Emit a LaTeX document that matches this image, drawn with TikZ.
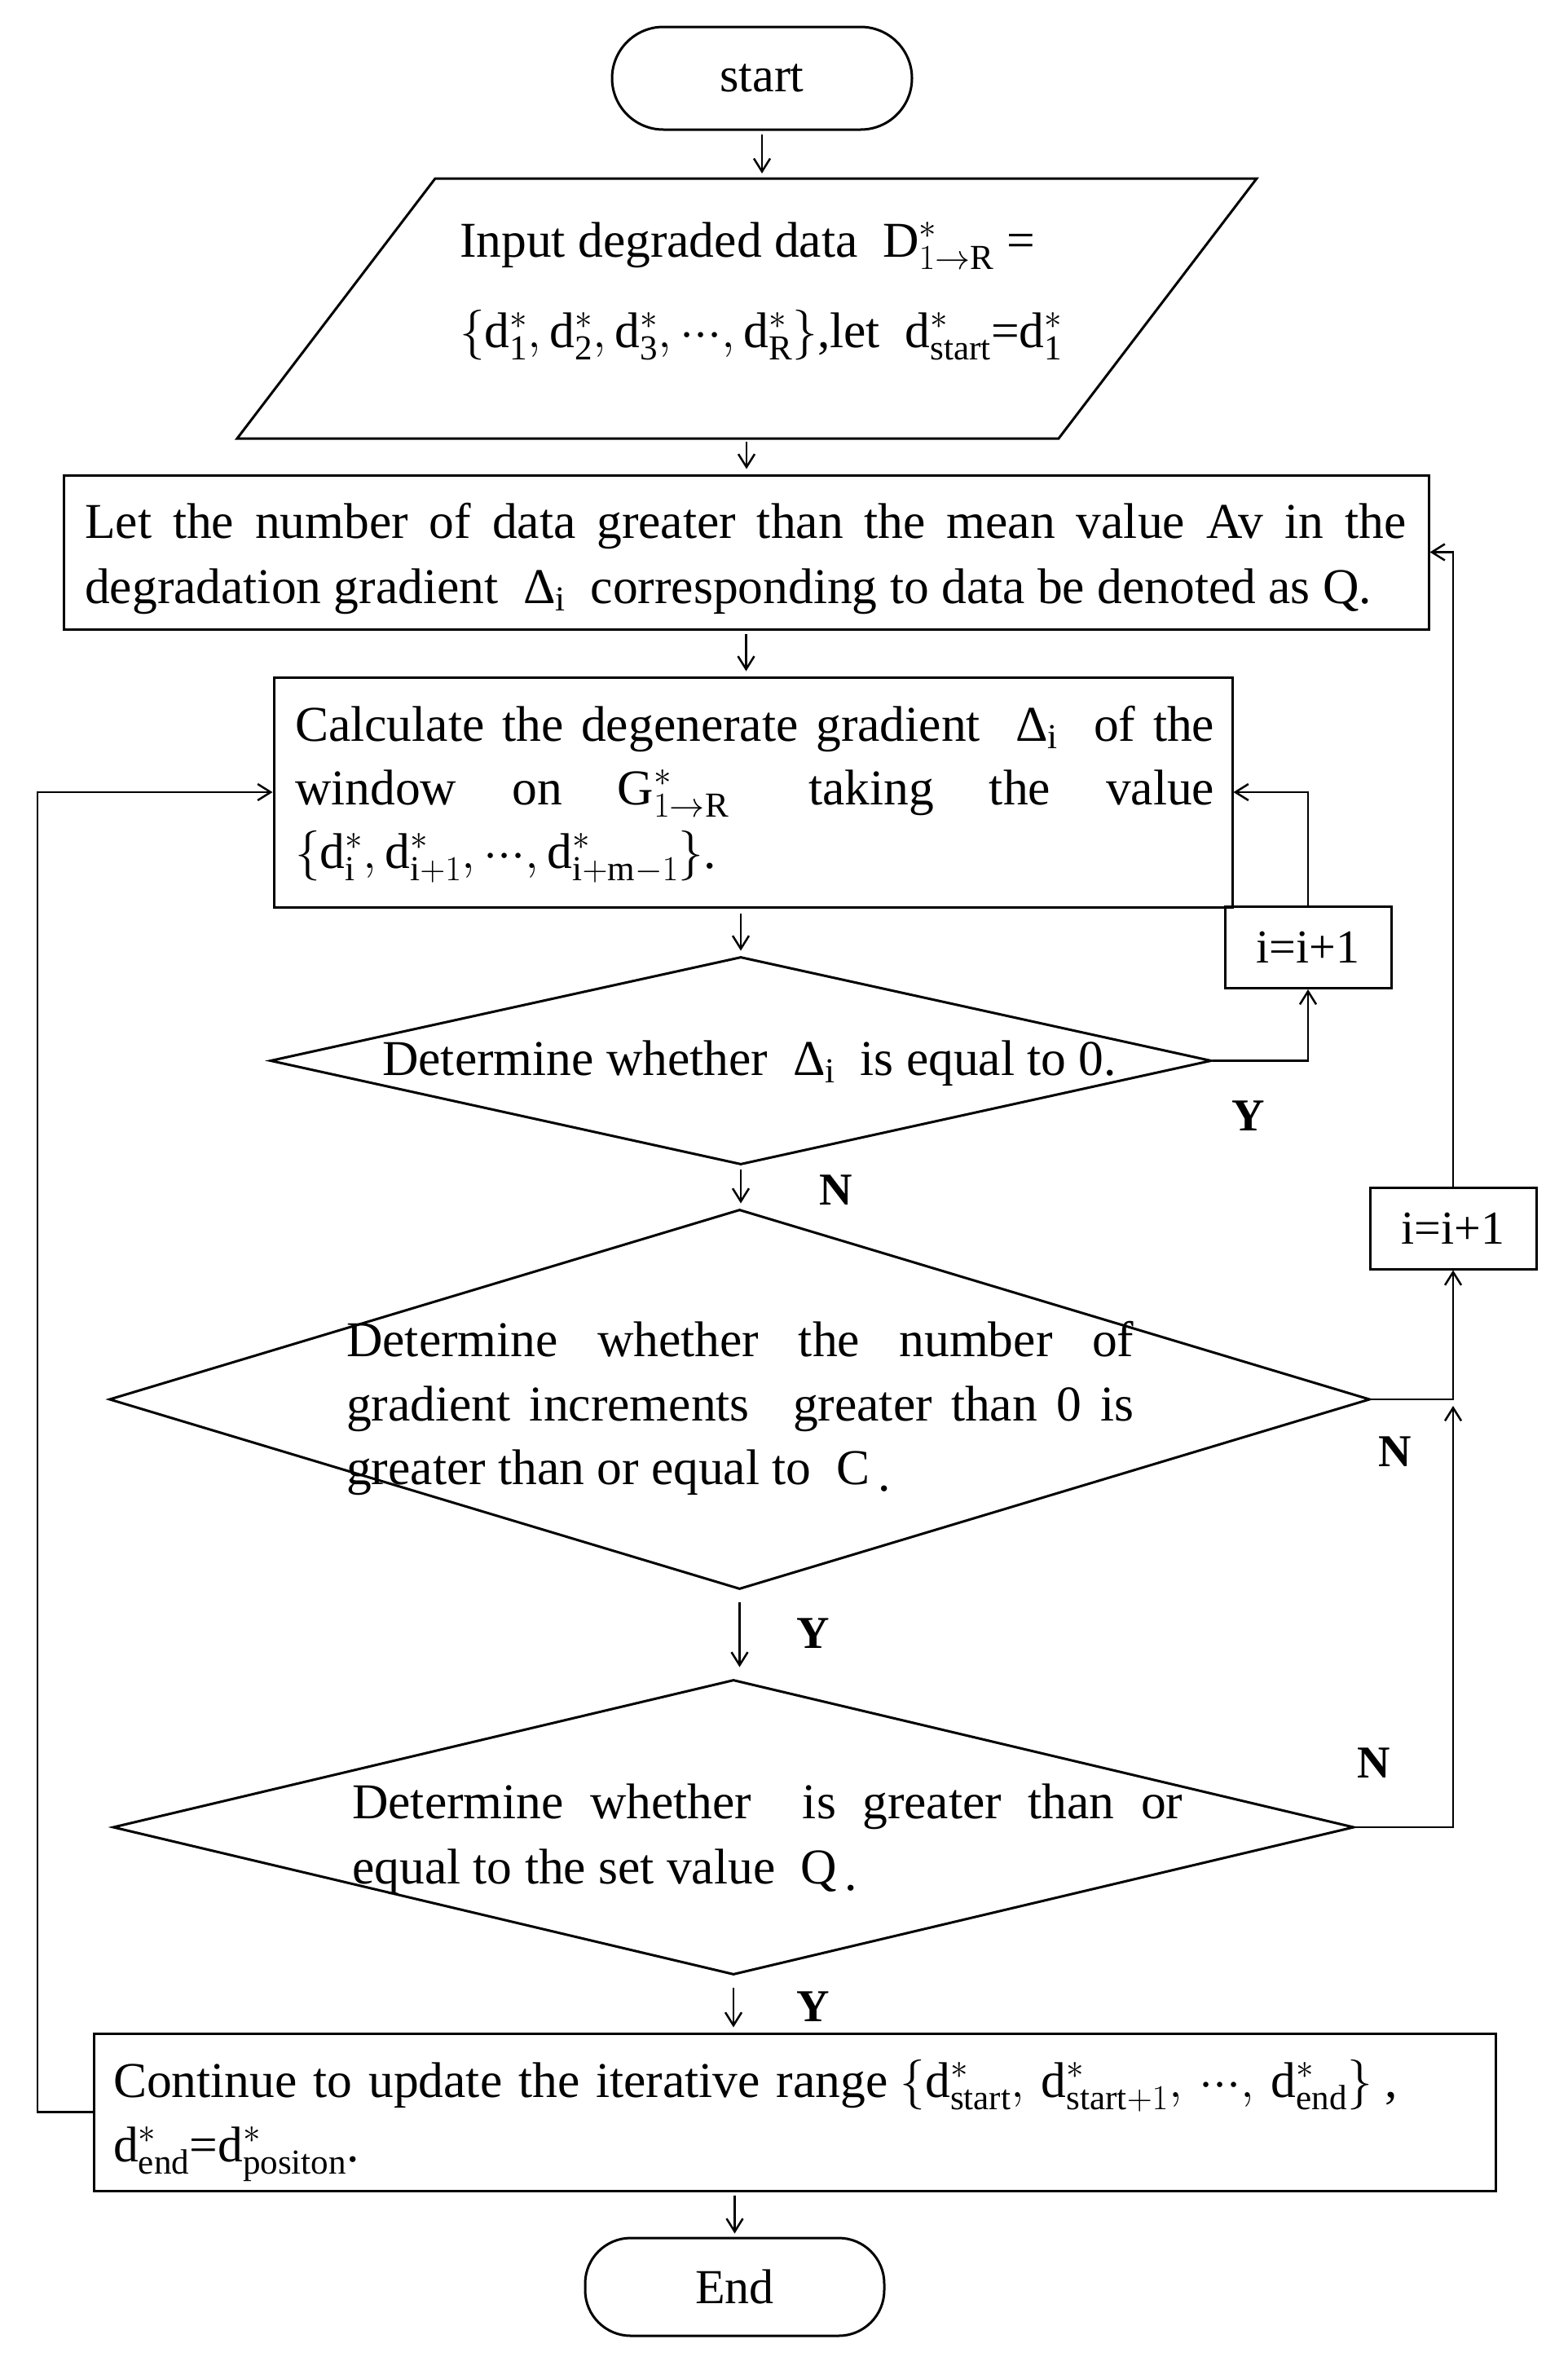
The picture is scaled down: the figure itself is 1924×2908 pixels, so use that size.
\RequirePackage{fix-cm}
\documentclass[tikz,border=0pt]{standalone}
\usepackage{fontspec}
\setmainfont{Liberation Serif}
\usetikzlibrary{shapes.geometric,arrows.meta,calc}
\newcommand{\dst}[1]{\mathrm{d}^{*}_{\mathrm{#1}}}
\newcommand{\mydots}{\mathord{\cdot}\mathord{\cdot}\mathord{\cdot}}
\newcommand{\gradD}{\mbox{Δ}_{\mathrm{i}}}
\tikzset{
  fbox/.style={draw, line width=3pt, inner sep=0pt},
  term/.style={fbox, font=\fontsize{60}{72}\selectfont},
  decis/.style={fbox, diamond},
  conn/.style={line width=2.5pt, -{Straight Barb[length=16pt,width=20pt,line width=2.5pt]}},
  txt/.style={anchor=base west, inner sep=0pt, font=\fontsize{61.5}{80}\selectfont},
  lbl/.style={inner sep=0pt, font=\fontsize{56}{64}\selectfont\bfseries},
  incbox/.style={fbox, minimum width=204pt, minimum height=100pt, font=\fontsize{58}{70}\selectfont},
}
\begin{document}
\begin{tikzpicture}[x=1pt,y=-1pt]
\useasboundingbox[fill=white] (0,0) rectangle (1924,2908);
% shapes
\node[term, minimum width=368pt, minimum height=126pt, rounded corners=63pt] (start) at (935,96) {start};
\node[inner sep=0pt, minimum width=1251pt, minimum height=319pt] (inp) at (916,378.5) {};
\draw[line width=3pt] (534,219) -- (1542,219) -- (1299,538) -- (291,538) -- cycle;
\node[fbox, minimum width=1675pt, minimum height=189pt] (b1) at (915.5,677.5) {};
\node[fbox, minimum width=1176pt, minimum height=282pt] (b2) at (924,972) {};
\node[incbox] (ia) at (1605,1162.5) {i=i+1};
\node[incbox] (ib) at (1783,1507) {i=i+1};
\node[decis, minimum width=1155pt, minimum height=255pt] (d1) at (909,1301.5) {};
\node[decis, minimum width=1547pt, minimum height=466pt] (d2) at (907.5,1717) {};
\node[decis, minimum width=1523pt, minimum height=362pt] (d3) at (900,2242) {};
\node[fbox, minimum width=1720pt, minimum height=193pt] (b4) at (975,2591.5) {};
\node[term, minimum width=367pt, minimum height=120pt, rounded corners=56pt] (end) at (901.5,2806) {End};
% texts
\node[txt] (p1) at (564,315) {Input degraded data\ \ $\mathrm{D}^{*}_{1\to\mathrm{R}}$ =};
\node[txt] (p2) at (564,426) {$\{\dst{1},\dst{2},\dst{3},\mydots,\dst{R}\}$,let\ \ $\dst{start}$=$\dst{1}$};
\node[txt] (l1) at (104,660) {\makebox[1621pt][s]{Let the number of data greater than the mean value Av in the}};
\node[txt] (l2) at (104,740) {degradation gradient\ \ $\gradD$\ \ corresponding to data be denoted as Q.};
\node[txt] (c1) at (362,909) {\makebox[1128pt][s]{Calculate the degenerate gradient\ \ $\gradD$\ \ of the}};
\node[txt] (c2) at (362,987) {\makebox[1128pt][s]{window on $\mathrm{G}^{*}_{1\to\mathrm{R}}$\hspace{30pt} taking the value}};
\node[txt] (c3) at (362,1065) {$\{\dst{i},\mathrm{d}^{*}_{\mathrm{i}+1},\mydots,\mathrm{d}^{*}_{\mathrm{i}+\mathrm{m}-1}\}$.};
\node[txt] (t1) at (469,1319) {Determine whether\ \ $\gradD$\ \ is equal to 0.};
\node[txt] (e1) at (425,1664) {\makebox[966pt][s]{Determine whether the number of}};
\node[txt] (e2) at (425,1743) {\makebox[966pt][s]{gradient increments\hspace{30pt} greater than 0 is}};
\node[txt] (e3) at (425,1821) {greater than or equal to\ \ C\,\raisebox{-8pt}{.}};
\node[txt] (f1) at (432,2231) {\makebox[1019pt][s]{Determine whether\hspace{30pt} is greater than or}};
\node[txt] (f2) at (432,2311) {equal to the set value\ \ Q\,\raisebox{-8pt}{.}};
\node[txt] (g1) at (139,2573) {\makebox[950pt][s]{Continue to update the iterative range}\ $\{\dst{start},\,\mathrm{d}^{*}_{\mathrm{start}+1},\,\mydots,\,\dst{end}\}$\ ,};
\node[txt] (g2) at (139,2652) {$\dst{end}$=$\dst{positon}$.};
% labels
\node[lbl] (y1) at (1532,1369) {Y};
\node[lbl] (n1) at (1026,1460) {N};
\node[lbl] (n2) at (1712,1781) {N};
\node[lbl] (y2) at (998,2004) {Y};
\node[lbl] (n3) at (1686,2163) {N};
\node[lbl] (y3) at (998,2462) {Y};
% connectors
\coordinate (lx) at (46,0);
\coordinate (jn) at (ib.south |- d2.east);
\draw[conn, shorten <=4pt, shorten >=6pt] (start.south) -- (start.south |- inp.north);
\draw[conn, shorten <=4pt, shorten >=6pt] (inp.south) -- (inp.south |- b1.north);
\draw[conn, shorten <=4pt, shorten >=6pt] (b1.south) -- (b1.south |- b2.north);
\draw[conn, shorten <=6pt, shorten >=6pt] (d1.north |- b2.south) -- (d1.north);
\draw[conn, shorten <=4pt, shorten >=6pt] (d1.south) -- (d1.south |- d2.north);
\draw[conn, shorten <=14pt, shorten >=14pt] (d2.south) -- (d2.south |- d3.north);
\draw[conn, shorten <=14pt, shorten >=6pt] (d3.south) -- (d3.south |- b4.north);
\draw[conn, shorten <=4pt, shorten >=4pt] (end.north |- b4.south) -- (end.north);
\draw[conn] (b4.west) -- (lx |- b4.west) -- (lx |- b2.west) -- (b2.west);
\draw[conn] (d1.east) -| (ia.south);
\draw[conn] (ia.north) |- (b2.east);
\draw[conn] (d2.east) -| (ib.south);
\draw[conn] (ib.north) |- (b1.east);
\draw[conn, shorten >=8pt] (d3.east) -| (jn);
\end{tikzpicture}
\end{document}
